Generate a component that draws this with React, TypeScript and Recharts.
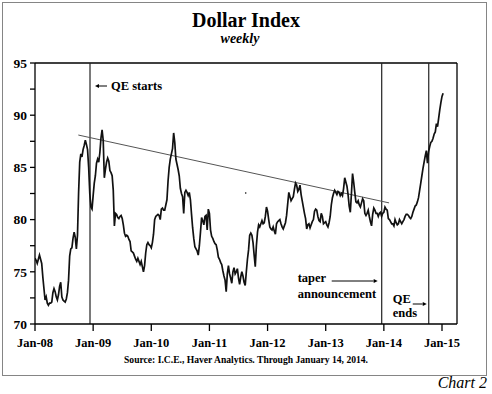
import React from 'react';
import { LineChart, Line, XAxis, YAxis, ReferenceLine, ReferenceDot } from 'recharts';

// weekly index readings, one array per calendar year
const wk2008 = [76.3, 76.1, 75.8, 76.2, 76.6, 76.2, 75.8, 74.5, 73.4, 72.3, 72.6, 72.0, 71.8, 72.0, 72.0, 72.1, 73.0, 73.4, 73.1, 72.6, 72.3, 72.8, 73.6, 74.0, 72.6, 72.3, 72.2, 72.1, 72.4, 73.0, 74.2, 76.5, 77.2, 77.3, 78.2, 78.8, 78.3, 77.2, 78.5, 82.6, 85.5, 86.3, 86.0, 86.7, 87.1, 87.6, 87.2, 86.7, 85.0, 82.5, 81.2, 81.0];
const wk2009 = [82.3, 83.5, 84.2, 85.4, 85.8, 85.5, 86.4, 87.8, 88.6, 87.6, 84.0, 84.8, 85.5, 85.9, 85.6, 84.7, 84.5, 84.2, 82.8, 79.4, 80.6, 80.5, 80.2, 80.1, 80.3, 80.4, 80.1, 79.5, 78.7, 78.4, 78.5, 78.4, 78.1, 77.9, 77.0, 76.9, 76.8, 76.5, 76.2, 76.0, 76.3, 76.0, 75.7, 76.0, 75.5, 75.0, 75.6, 76.8, 77.6, 77.8, 77.6, 77.5];
const wk2010 = [77.3, 77.8, 78.6, 80.0, 80.3, 80.4, 80.5, 80.4, 80.0, 81.0, 81.1, 80.9, 80.9, 81.4, 81.9, 83.7, 85.0, 85.8, 86.3, 86.8, 88.3, 87.4, 85.8, 85.3, 84.8, 84.2, 83.0, 82.5, 82.2, 80.6, 82.6, 82.8, 82.6, 82.3, 82.6, 81.9, 80.5, 79.2, 78.2, 77.4, 77.2, 77.0, 76.6, 77.5, 78.8, 80.2, 79.9, 79.5, 80.3, 80.4, 79.0, 81.0];
const wk2011 = [80.6, 79.0, 78.4, 78.2, 77.9, 77.7, 77.6, 77.1, 76.4, 76.2, 75.9, 75.7, 75.1, 74.6, 74.2, 73.1, 74.8, 75.6, 74.8, 74.4, 73.9, 75.0, 75.4, 74.8, 75.0, 75.3, 74.4, 73.8, 74.5, 75.0, 74.6, 74.0, 73.7, 75.0, 76.2, 77.1, 78.5, 78.7, 78.5, 77.8, 76.6, 75.5, 77.5, 78.8, 79.5, 79.3, 79.6, 79.9, 79.6, 79.7, 80.3, 81.2];
const wk2012 = [80.8, 80.0, 79.3, 79.1, 79.0, 79.3, 78.9, 78.6, 79.6, 79.8, 79.9, 80.0, 79.6, 79.3, 79.1, 79.4, 79.7, 80.4, 81.5, 82.6, 82.2, 81.8, 82.0, 82.2, 82.9, 83.5, 83.3, 82.7, 82.9, 83.3, 82.4, 81.8, 81.2, 80.6, 80.1, 79.1, 79.5, 79.6, 79.2, 79.5, 79.8, 80.0, 80.8, 81.0, 80.9, 80.3, 79.9, 79.8, 80.6, 80.3, 79.6, 79.7];
const wk2013 = [79.8, 79.5, 79.3, 79.7, 80.3, 81.4, 82.1, 82.5, 82.8, 82.6, 82.4, 82.7, 82.6, 82.3, 82.5, 82.3, 83.0, 84.0, 83.6, 83.2, 82.4, 81.3, 80.7, 82.5, 84.4, 83.6, 82.6, 81.7, 81.6, 81.8, 81.4, 81.2, 81.6, 82.0, 81.8, 80.6, 80.4, 80.6, 80.9, 80.3, 79.8, 79.4, 80.5, 81.1, 80.9, 80.6, 80.6, 80.3, 80.6, 80.7, 80.3, 80.6];
const wk2014 = [80.7, 81.2, 81.0, 80.9, 80.1, 80.0, 79.8, 79.6, 79.6, 79.4, 80.0, 79.7, 79.5, 79.6, 80.0, 79.8, 79.6, 79.8, 80.0, 80.3, 80.5, 80.5, 80.4, 80.2, 80.1, 80.3, 80.7, 81.0, 81.3, 81.4, 81.7, 82.1, 82.8, 83.5, 84.2, 84.9, 85.5, 86.1, 86.6, 85.4, 86.5, 87.0, 87.4, 87.5, 87.8, 88.2, 88.4, 89.2, 88.9, 89.7, 90.5, 91.2];
const wk2015 = [91.8, 92.1];

const startYears = [2008, 2009, 2010, 2011, 2012, 2013, 2014, 2015];
const weeklyByYear = [wk2008, wk2009, wk2010, wk2011, wk2012, wk2013, wk2014, wk2015];

const yearTicks = [2008, 2009, 2010, 2011, 2012, 2013, 2014, 2015];
const yearLabels = ['Jan-08', 'Jan-09', 'Jan-10', 'Jan-11', 'Jan-12', 'Jan-13', 'Jan-14', 'Jan-15'];
const valueTicks = [70, 72.5, 75, 77.5, 80, 82.5, 85, 87.5, 90, 92.5, 95];

// event dates (fractional years) and the hand-drawn trend line
const qeStart = 2008.946;
const taperDate = 2013.963;
const qeEnd = 2014.772;
const trendLine = [{ x: 2008.745, y: 88.1 }, { x: 2014.09, y: 81.6 }];
const strayDot = { x: 2011.624, y: 82.55 };

const data = startYears.flatMap((yr, k) =>
  weeklyByYear[k].map((v, i) => ({ t: yr + i / 52, dxy: v }))
);

const serif = '"Liberation Serif", "Times New Roman", serif';
const note = { fontFamily: serif, fontWeight: 700, fontSize: 12.5, fill: '#000' } as const;

const ValueTick = (props: any) => {
  const { x, y, payload, textAnchor } = props;
  if (payload.value % 5 !== 0) return <g />;
  return (
    <text x={x} y={y} dy={4.8} textAnchor={textAnchor} style={{ ...note, fontSize: 13.5 }}>
      {payload.value}
    </text>
  );
};

const YearTick = (props: any) => {
  const { x, y, payload } = props;
  const i = yearTicks.indexOf(payload.value);
  return (
    <text x={x} y={y} dy={13.5} textAnchor="middle" style={note}>
      {yearLabels[i]}
    </text>
  );
};

const QeStartNote = (props: any) => {
  const x = props.viewBox.x;
  const top = props.viewBox.y;
  return (
    <g>
      <line x1={x + 8} y1={top + 23} x2={x + 17} y2={top + 23} stroke="#000" strokeWidth={1} />
      <path d={`M${x + 5},${top + 23} l4,-2 l0,4 z`} fill="#000" />
      <text x={x + 21} y={top + 27} style={note}>QE starts</text>
    </g>
  );
};

const TaperNote = (props: any) => {
  const x = props.viewBox.x;
  const top = props.viewBox.y;
  return (
    <g>
      <text x={x - 84} y={top + 219} style={note}>taper</text>
      <line x1={x - 50} y1={top + 218} x2={x - 8} y2={top + 218} stroke="#000" strokeWidth={1} />
      <path d={`M${x - 4},${top + 218} l-4,-2 l0,4 z`} fill="#000" />
      <text x={x - 84} y={top + 235} style={note}>announcement</text>
    </g>
  );
};

const QeEndNote = (props: any) => {
  const x = props.viewBox.x;
  const top = props.viewBox.y;
  return (
    <g>
      <text x={x - 36} y={top + 240} style={note}>QE</text>
      <line x1={x - 16} y1={top + 241} x2={x - 6} y2={top + 241} stroke="#000" strokeWidth={1} />
      <path d={`M${x - 2},${top + 241} l-4,-2 l0,4 z`} fill="#000" />
      <text x={x - 36} y={top + 254} style={note}>ends</text>
    </g>
  );
};

export default function App() {
  const axisStroke = { stroke: '#000', strokeWidth: 1.3 };
  return (
    <div style={{ position: 'absolute', left: 0, top: 0, width: 492, height: 394, background: '#fff', fontFamily: serif }}>
      <div style={{ position: 'absolute', left: 2, top: 2, width: 485, height: 374, border: '1.5px solid #858585', boxSizing: 'border-box' }} />
      <div style={{ position: 'absolute', left: 0, top: 10, width: 492, textAlign: 'center', fontSize: 20, fontWeight: 700, lineHeight: 1 }}>
        Dollar Index
      </div>
      <div style={{ position: 'absolute', left: -6, top: 32, width: 492, textAlign: 'center', fontSize: 14, fontWeight: 700, fontStyle: 'italic', lineHeight: 1 }}>
        weekly
      </div>
      <div style={{ position: 'absolute', left: 0, top: 0 }}>
        <LineChart width={492} height={394} data={data} margin={{ top: 63, right: 0, bottom: 40, left: 0 }}>
          <XAxis
            dataKey="t"
            type="number"
            domain={[2008, 2015.258]}
            ticks={yearTicks}
            allowDataOverflow
            height={30}
            tickSize={7}
            axisLine={axisStroke}
            tickLine={axisStroke}
            tick={<YearTick />}
          />
          <YAxis yAxisId="left" orientation="left" width={35} type="number" domain={[70, 95]} ticks={valueTicks}
            tickSize={5} tickMargin={3} axisLine={axisStroke} tickLine={axisStroke} tick={<ValueTick />} />
          <YAxis yAxisId="right" orientation="right" width={35} type="number" domain={[70, 95]} ticks={valueTicks}
            tickSize={5} tickMargin={3} axisLine={axisStroke} tickLine={axisStroke} tick={<ValueTick />} />
          <ReferenceLine yAxisId="left" y={95} stroke="#000" strokeWidth={1.3} />
          <ReferenceLine yAxisId="left" x={qeStart} stroke="#222" strokeWidth={1.2} label={QeStartNote} />
          <ReferenceLine yAxisId="left" x={taperDate} stroke="#222" strokeWidth={1.2} label={TaperNote} />
          <ReferenceLine yAxisId="left" x={qeEnd} stroke="#222" strokeWidth={1.2} label={QeEndNote} />
          <ReferenceLine yAxisId="left" segment={trendLine} stroke="#555" strokeWidth={1} />
          <ReferenceDot yAxisId="left" x={strayDot.x} y={strayDot.y} r={0.8} fill="#000" stroke="none" />
          <Line
            yAxisId="left"
            type="linear"
            dataKey="dxy"
            stroke="#111"
            strokeWidth={1.7}
            dot={false}
            isAnimationActive={false}
          />
        </LineChart>
      </div>
      <div style={{ position: 'absolute', left: 0, top: 355, width: 492, textAlign: 'center', fontSize: 9.6, fontWeight: 700, lineHeight: 1 }}>
        Source: I.C.E., Haver Analytics. Through January 14, 2014.
      </div>
      <div style={{ position: 'absolute', right: 5, top: 375, fontSize: 16, fontStyle: 'italic', lineHeight: 1 }}>
        Chart 2
      </div>
    </div>
  );
}
